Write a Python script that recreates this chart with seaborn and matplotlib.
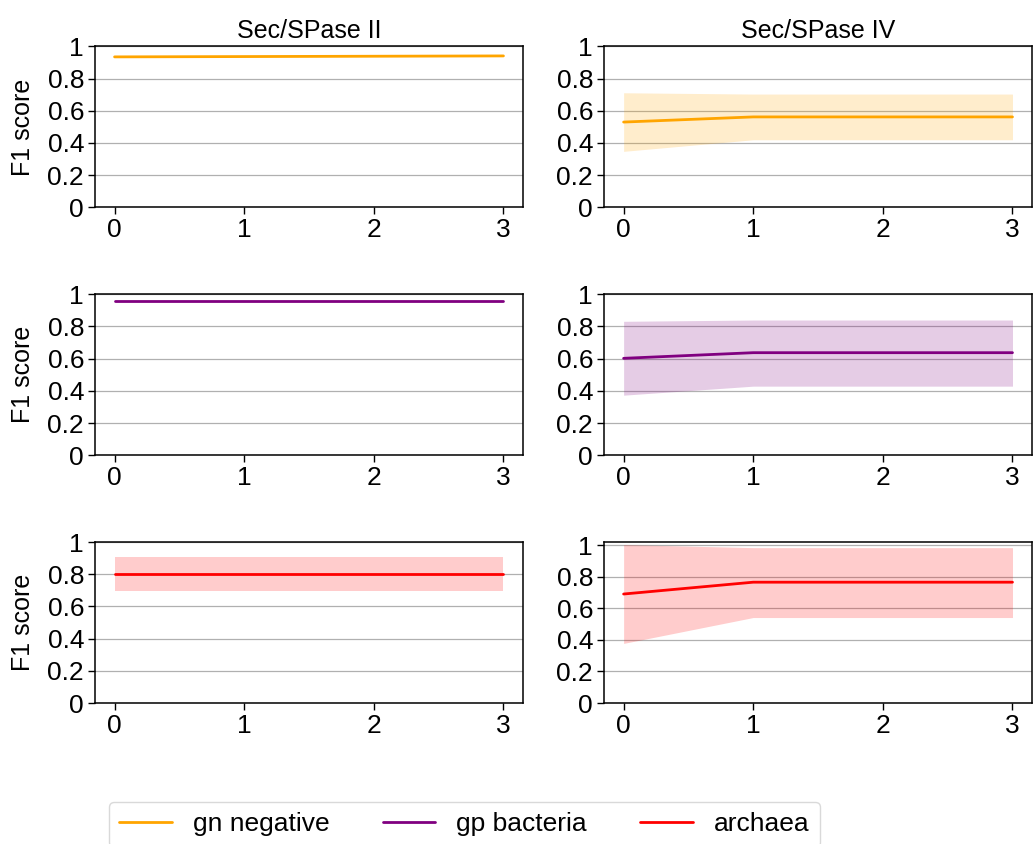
import matplotlib
matplotlib.use('Agg')
import matplotlib.pyplot as plt
from matplotlib.ticker import FormatStrFormatter
import seaborn as sns
import pandas as pd

steps = [0, 1, 2, 3]
groups = ['gn negative', 'gp bacteria', 'archaea']
colors = ['#FFA500', '#800080', '#FF0000']
titles = ['Sec/SPase II', 'Sec/SPase IV']

# Sec/SPase II
sec2_gn = [0.935, 0.937, 0.939, 0.941]
sec2_gn_lo = [0.935, 0.937, 0.939, 0.941]
sec2_gn_hi = [0.935, 0.937, 0.939, 0.941]
sec2_gp = [0.960, 0.960, 0.960, 0.960]
sec2_gp_lo = [0.960, 0.960, 0.960, 0.960]
sec2_gp_hi = [0.960, 0.960, 0.960, 0.960]
sec2_ar = [0.800, 0.800, 0.800, 0.800]
sec2_ar_lo = [0.697, 0.697, 0.697, 0.697]
sec2_ar_hi = [0.905, 0.905, 0.905, 0.905]

# Sec/SPase IV
sec4_gn = [0.530, 0.562, 0.562, 0.562]
sec4_gn_lo = [0.348, 0.420, 0.420, 0.420]
sec4_gn_hi = [0.712, 0.704, 0.704, 0.704]
sec4_gp = [0.602, 0.637, 0.637, 0.637]
sec4_gp_lo = [0.373, 0.429, 0.429, 0.429]
sec4_gp_hi = [0.832, 0.840, 0.840, 0.840]
sec4_ar = [0.691, 0.766, 0.766, 0.766]
sec4_ar_lo = [0.378, 0.542, 0.542, 0.542]
sec4_ar_hi = [1.004, 0.985, 0.985, 0.985]

panels = [
    [(sec2_gn, sec2_gn_lo, sec2_gn_hi), (sec4_gn, sec4_gn_lo, sec4_gn_hi)],
    [(sec2_gp, sec2_gp_lo, sec2_gp_hi), (sec4_gp, sec4_gp_lo, sec4_gp_hi)],
    [(sec2_ar, sec2_ar_lo, sec2_ar_hi), (sec4_ar, sec4_ar_lo, sec4_ar_hi)],
]

sns.set_theme(style='white')
plt.rcParams['font.family'] = ['Liberation Sans', 'DejaVu Sans']
plt.rcParams['axes.edgecolor'] = 'black'
plt.rcParams['text.color'] = 'black'
plt.rcParams['axes.labelcolor'] = 'black'
plt.rcParams['xtick.color'] = 'black'
plt.rcParams['ytick.color'] = 'black'
plt.rcParams['xtick.bottom'] = True
plt.rcParams['ytick.left'] = True

fig, axes = plt.subplots(3, 2, figsize=(10.34, 8.44), dpi=100)
fig.subplots_adjust(left=0.092, right=0.998, top=0.945, bottom=0.167,
                    wspace=0.19, hspace=0.54)

for r in range(3):
    for c in range(2):
        ax = axes[r, c]
        mean, lo, hi = panels[r][c]
        df = pd.DataFrame({'step': steps, 'f1': mean})
        sns.lineplot(data=df, x='step', y='f1', color=colors[r], lw=2,
                     label=groups[r], ax=ax, legend=False)
        ax.fill_between(steps, lo, hi, color=colors[r], alpha=0.2, lw=0)
        top = 1.0 if max(hi) <= 1.0 else 1.02
        ax.set_ylim(0, top)
        ax.set_yticks([0, 0.2, 0.4, 0.6, 0.8, 1.0])
        ax.yaxis.set_major_formatter(FormatStrFormatter('%g'))
        ax.set_xticks(steps)
        ax.grid(axis='y', color='#b0b0b0', lw=0.9)
        ax.set_axisbelow(True)
        ax.tick_params(labelsize=19, length=5, width=1, color='black', pad=3)
        for s in ax.spines.values():
            s.set_color('black')
            s.set_linewidth(1.1)
        ax.set_xlabel('')
        ax.set_ylabel('F1 score' if c == 0 else '', fontsize=18, labelpad=9)
        if r == 0:
            ax.set_title(titles[c], fontsize=18)

handles = [axes[r, 0].get_lines()[0] for r in range(3)]
fig.legend(handles, groups, loc='upper center', bbox_to_anchor=(0.449, 0.05),
           borderaxespad=0, ncol=3, fontsize=19, columnspacing=2.0,
           handlelength=2.0, frameon=True, edgecolor='#d0d0d0', fancybox=True)

fig.savefig('out.png', dpi=100)
